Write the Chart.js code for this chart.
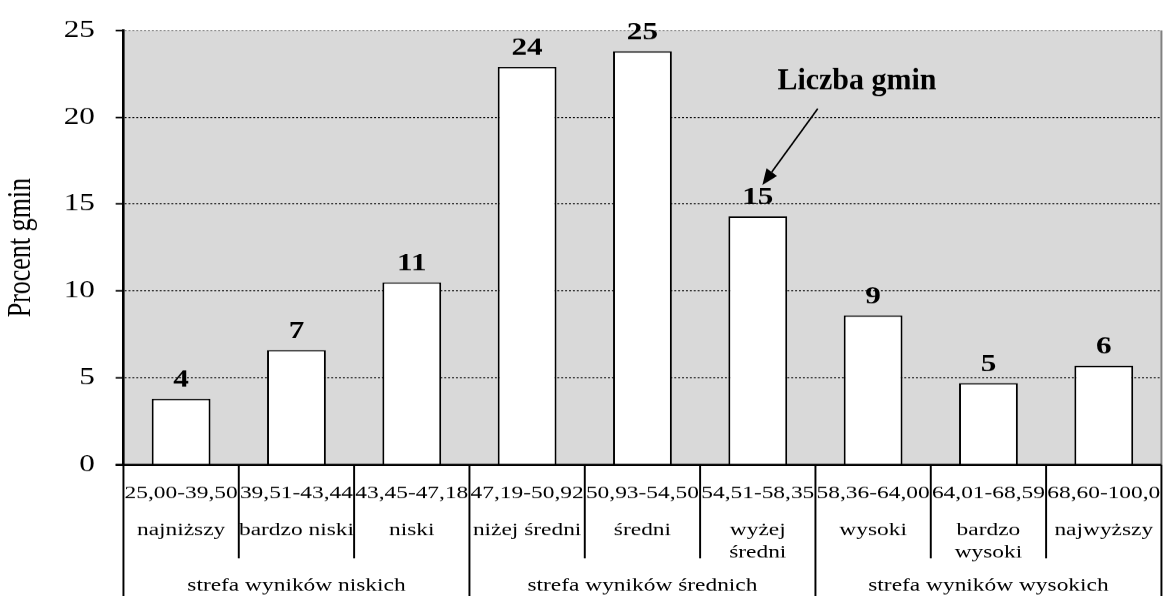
<!DOCTYPE html>
<html lang="pl">
<head>
<meta charset="utf-8">
<title>Procent gmin</title>
<script src="https://cdn.jsdelivr.net/npm/chart.js@4"></script>
<style>
  html, body { margin: 0; padding: 0; background: #fff; }
</style>
</head>
<body>
<!-- płótno rysowane węziej i rozciągane w poziomie, tak jak oryginalny rysunek -->
<canvas id="wykres" width="895" height="596" style="display:block;width:1163px;height:596px"></canvas>
<script>
// dane
const ranges = ['25,00-39,50', '39,51-43,44', '43,45-47,18', '47,19-50,92', '50,93-54,50',
  '54,51-58,35', '58,36-64,00', '64,01-68,59', '68,60-100,0'];
const levels = [['najniższy'], ['bardzo niski'], ['niski'], ['niżej średni'], ['średni'],
  ['wyżej', 'średni'], ['wysoki'], ['bardzo', 'wysoki'], ['najwyższy']];
const zones = ['strefa wyników niskich', 'strefa wyników średnich', 'strefa wyników wysokich'];
const percent = [3.8, 6.6, 10.5, 22.9, 23.8, 14.3, 8.6, 4.7, 5.7];
const counts = [4, 7, 11, 24, 25, 15, 9, 5, 6];

const STRETCH = 1163 / 895; // rozciągnięcie poziome
const serif = "'Liberation Serif', 'Times New Roman', serif";

// szare tło obszaru wykresu
const tlo = {
  id: 'tlo',
  beforeDraw(chart) {
    const { ctx, chartArea: a } = chart;
    ctx.save();
    ctx.fillStyle = '#d9d9d9';
    ctx.fillRect(a.left, a.top, a.right - a.left, a.bottom - a.top);
    ctx.restore();
  },
};

// oś kategorii na trzech poziomach
const osKategorii = {
  id: 'osKategorii',
  afterDraw(chart) {
    const { ctx, chartArea: a, scales: { x } } = chart;
    ctx.save();
    // prawa krawędź
    ctx.strokeStyle = '#808080';
    ctx.lineWidth = 1.5;
    ctx.beginPath();
    ctx.moveTo(a.right, a.top);
    ctx.lineTo(a.right, a.bottom);
    ctx.stroke();

    // linia osi
    ctx.strokeStyle = '#000';
    ctx.lineWidth = 2;
    ctx.beginPath();
    ctx.moveTo(a.left - 6, a.bottom);
    ctx.lineTo(a.right, a.bottom);
    ctx.stroke();

    // pionowe podziały
    ctx.lineWidth = 1.5;
    for (let i = 0; i <= ranges.length; i++) {
      const px = x.getPixelForValue(i - 0.5);
      const dol = i % 3 === 0 ? chart.height : a.bottom + 93.5;
      ctx.beginPath();
      ctx.moveTo(px, a.bottom);
      ctx.lineTo(px, dol);
      ctx.stroke();
    }

    ctx.fillStyle = '#000';
    ctx.textAlign = 'center';
    ctx.textBaseline = 'alphabetic';
    ctx.font = `18px ${serif}`;
    ranges.forEach((r, i) => {
      const px = x.getPixelForValue(i);
      ctx.fillText(r, px, a.bottom + 33.5);
      levels[i].forEach((line, j) => ctx.fillText(line, px, a.bottom + 70.5 + j * 22));
    });
    zones.forEach((z, k) => {
      ctx.fillText(z, x.getPixelForValue(k * 3 + 1), a.bottom + 126);
    });

    // liczba gmin nad słupkami
    ctx.font = `bold 24px ${serif}`;
    chart.getDatasetMeta(0).data.forEach((bar, i) => {
      ctx.fillText(String(counts[i]), bar.x, bar.y - 12);
    });
    ctx.restore();
  },
};

// podpis "Liczba gmin" ze strzałką
const podpis = { tekst: 'Liczba gmin', tx: 5.86, ty: 21.6, ox: 5.52, oy: 20.5, dx: 5.04, dy: 16.1 };
const strzalka = {
  id: 'strzalka',
  afterDraw(chart) {
    const { ctx, scales: { x, y } } = chart;
    ctx.save();
    ctx.scale(1 / STRETCH, 1); // rysujemy w pikselach ekranu, bez rozciągania
    const X = v => x.getPixelForValue(v) * STRETCH;
    ctx.fillStyle = '#000';
    ctx.strokeStyle = '#000';
    ctx.font = `bold 30px ${serif}`;
    ctx.textAlign = 'center';
    ctx.textBaseline = 'alphabetic';
    ctx.fillText(podpis.tekst, X(podpis.tx), y.getPixelForValue(podpis.ty));

    const x1 = X(podpis.ox), y1 = y.getPixelForValue(podpis.oy);
    const x2 = X(podpis.dx), y2 = y.getPixelForValue(podpis.dy);
    const kat = Math.atan2(y2 - y1, x2 - x1);
    const dl = 16, sz = 6.5;
    const bx = x2 - dl * Math.cos(kat), by = y2 - dl * Math.sin(kat);
    ctx.lineWidth = 1.6;
    ctx.beginPath();
    ctx.moveTo(x1, y1);
    ctx.lineTo(bx, by);
    ctx.stroke();
    ctx.beginPath();
    ctx.moveTo(x2, y2);
    ctx.lineTo(bx + sz * Math.sin(kat), by - sz * Math.cos(kat));
    ctx.lineTo(bx - sz * Math.sin(kat), by + sz * Math.cos(kat));
    ctx.closePath();
    ctx.fill();
    ctx.restore();
  },
};

new Chart(document.getElementById('wykres'), {
  type: 'bar',
  plugins: [tlo, osKategorii, strzalka],
  data: {
    labels: ranges,
    datasets: [{
      data: percent,
      backgroundColor: '#ffffff',
      borderColor: '#000000',
      borderWidth: 1.5,
      barPercentage: 0.51,
      categoryPercentage: 1,
    }],
  },
  options: {
    responsive: false,
    devicePixelRatio: STRETCH,
    animation: false,
    layout: { padding: { left: 0, right: 1.2, top: 23, bottom: 131.5 } },
    plugins: {
      legend: { display: false },
      tooltip: { enabled: false },
    },
    scales: {
      x: {
        display: false,
        offset: true,
        grid: { display: false },
      },
      y: {
        min: 0,
        max: 25,
        ticks: { stepSize: 5, padding: 16, color: '#000', font: { family: serif, size: 24 } },
        grid: {
          color: c => (c.tick && c.tick.value === 25 ? '#8c8c8c' : '#000'),
          lineWidth: 1,
          tickLength: 6,
          tickColor: '#000',
          tickWidth: 1.5,
        },
        border: { display: true, color: '#000', width: 2, dash: [1.5, 1.5] },
        title: {
          display: true,
          text: 'Procent gmin',
          color: '#000',
          font: { family: serif, size: 26 },
          padding: { top: 1, bottom: 0 },
        },
        afterFit(scale) {
          scale.width = 95; // stała szerokość osi Y
        },
      },
    },
  },
});
</script>
</body>
</html>
